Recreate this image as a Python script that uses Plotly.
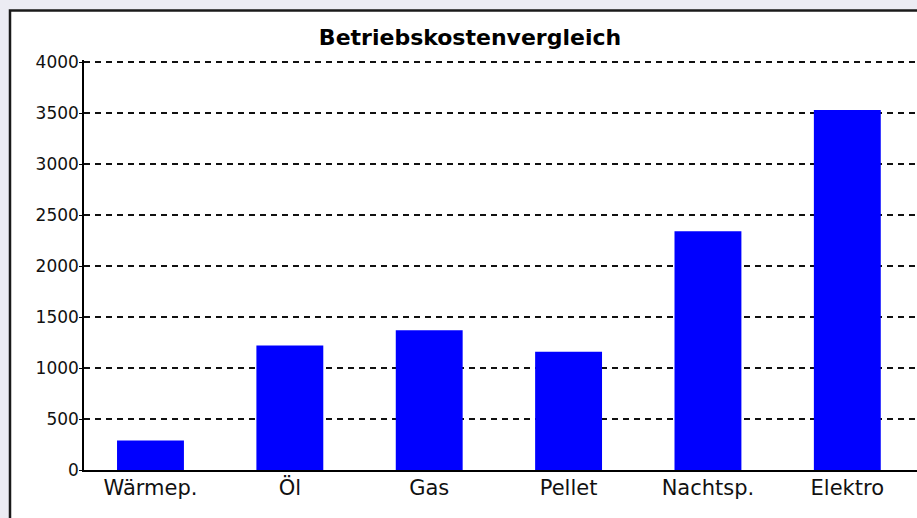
import plotly.graph_objects as go

categories = ["Wärmep.", "Öl", "Gas", "Pellet", "Nachtsp.", "Elektro"]
costs = [290, 1220, 1370, 1160, 2340, 3530]
y_ticks = [0, 500, 1000, 1500, 2000, 2500, 3000, 3500, 4000]
title_text = "Betriebskostenvergleich"

W, H = 917, 518
L, R, T, B = 84, 0, 60, 48
pw, ph = W - L - R, H - T - B

def px_x(p):
    return (p - L) / pw

def px_y(p):
    return (H - B - p) / ph

fig = go.Figure(
    go.Bar(
        x=list(range(len(categories))),
        y=costs,
        marker=dict(color="#0000ff", line=dict(width=0)),
        hoverinfo="skip",
    )
)

fig.update_layout(
    width=W,
    height=H,
    margin=dict(l=L, r=R, t=T, b=B, pad=0),
    paper_bgcolor="#ececf3",
    plot_bgcolor="#ffffff",
    bargap=0.52,
    showlegend=False,
    title=dict(
        text=title_text,
        x=470 / W,
        xref="container",
        xanchor="center",
        y=1 - 37 / H,
        yref="container",
        yanchor="middle",
        font=dict(family="DejaVu Sans", size=22, color="#000000", weight="bold"),
    ),
    shapes=[
        dict(
            type="rect",
            xref="paper",
            yref="paper",
            x0=px_x(10),
            x1=px_x(W + 20),
            y0=px_y(H + 20),
            y1=px_y(10.5),
            line=dict(color="#1a1a1a", width=2.5),
            fillcolor="#ffffff",
            layer="below",
        )
    ],
)

fig.update_xaxes(
    range=[-0.477, 5.5],
    tickmode="array",
    tickvals=list(range(len(categories))),
    ticktext=categories,
    showgrid=False,
    zeroline=False,
    showline=True,
    linecolor="#000000",
    linewidth=1.5,
    ticks="",
    ticklabelstandoff=-2,
    tickfont=dict(family="DejaVu Sans", size=21, color="#111111"),
)

fig.update_yaxes(
    range=[0, 4020],
    tickmode="array",
    tickvals=y_ticks,
    ticktext=[str(v) for v in y_ticks],
    showgrid=True,
    gridcolor="#111111",
    gridwidth=1.5,
    griddash="6px,5px",
    zeroline=False,
    showline=True,
    linecolor="#000000",
    linewidth=1.5,
    ticks="outside",
    ticklen=3,
    tickcolor="#000000",
    ticklabelstandoff=-3,
    tickfont=dict(family="DejaVu Sans", size=17, color="#111111"),
)

fig.write_html(
    "out.html",
    config={"displayModeBar": False},
    post_script="document.body.style.margin='0';document.body.style.background='#ececf3';document.documentElement.style.overflow='hidden';",
)
